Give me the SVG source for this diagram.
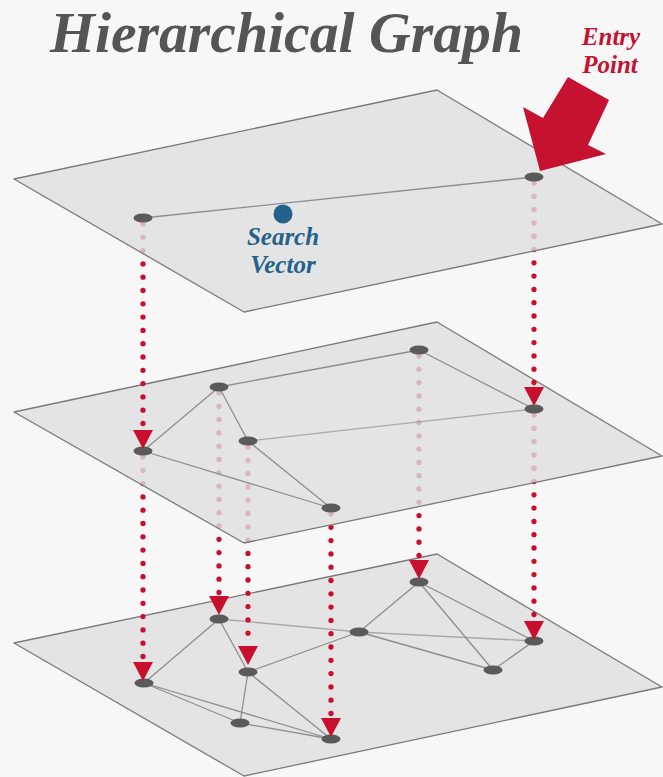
<svg xmlns="http://www.w3.org/2000/svg" width="663" height="777" viewBox="0 0 663 777">
  <defs>
    <style>
      .bg { fill: #f7f7f7; }
      .plane { fill: #dedede; fill-opacity: 0.8; stroke: #7a7a7a; stroke-width: 1.3; stroke-linejoin: round; }
      .edge { stroke: #8e8e8e; stroke-width: 1.3; fill: none; }
      .node { fill: #5a5a5a; }
      .drop { stroke: #c8102e; stroke-width: 5.3; stroke-linecap: round; stroke-dasharray: 0 13.3; fill: none; marker-end: url(#head); }
      .title { font-family: "Liberation Serif", "DejaVu Serif", serif; font-weight: bold; font-style: italic; }
    </style>
    <marker id="head" viewBox="0 -10 20 20" markerWidth="20" markerHeight="20" refX="0" refY="0" orient="auto" markerUnits="userSpaceOnUse" overflow="visible">
      <path d="M0,-10 L19,0 L0,10 Z" fill="#c8102e"/>
    </marker>
  </defs>

  <rect class="bg" x="0" y="0" width="663" height="777"/>

  <!-- bottom layer -->
  <g id="layer-2">
    <polygon class="plane" points="14,643 437,554 662,687 244,776"/>
    <g id="edges-layer-2">
      <line class="edge" x1="144" y1="683" x2="219" y2="619"/>
      <line class="edge" x1="219" y1="619" x2="248" y2="672"/>
      <line class="edge" x1="219" y1="619" x2="359" y2="632" stroke-opacity="0.7"/>
      <line class="edge" x1="359" y1="632" x2="419" y2="582"/>
      <line class="edge" x1="359" y1="632" x2="534" y2="641" stroke-opacity="0.7"/>
      <line class="edge" x1="359" y1="632" x2="493" y2="670"/>
      <line class="edge" x1="359" y1="632" x2="248" y2="672"/>
      <line class="edge" x1="419" y1="582" x2="534" y2="641"/>
      <line class="edge" x1="419" y1="582" x2="493" y2="670"/>
      <line class="edge" x1="493" y1="670" x2="534" y2="641"/>
      <line class="edge" x1="248" y1="672" x2="240" y2="723"/>
      <line class="edge" x1="248" y1="672" x2="331" y2="739"/>
      <line class="edge" x1="144" y1="683" x2="240" y2="723"/>
      <line class="edge" x1="144" y1="683" x2="331" y2="739"/>
      <line class="edge" x1="240" y1="723" x2="331" y2="739"/>
    </g>
    <g id="n2-a"><ellipse class="node" cx="144" cy="683" rx="9.5" ry="4.5"/></g>
    <g id="n2-b"><ellipse class="node" cx="219" cy="619" rx="9.5" ry="4.5"/></g>
    <g id="n2-c"><ellipse class="node" cx="248" cy="672" rx="9.5" ry="4.5"/></g>
    <g id="n2-d"><ellipse class="node" cx="359" cy="632" rx="9.5" ry="4.5"/></g>
    <g id="n2-e"><ellipse class="node" cx="419" cy="582" rx="9.5" ry="4.5"/></g>
    <g id="n2-f"><ellipse class="node" cx="534" cy="641" rx="9.5" ry="4.5"/></g>
    <g id="n2-g"><ellipse class="node" cx="493" cy="670" rx="9.5" ry="4.5"/></g>
    <g id="n2-h"><ellipse class="node" cx="240" cy="723" rx="9.5" ry="4.5"/></g>
    <g id="n2-i"><ellipse class="node" cx="331" cy="739" rx="9.5" ry="4.5"/></g>
  </g>

  <!-- descents from the middle layer to the bottom layer -->
  <g id="connectors-middle-to-bottom">
    <path class="drop" d="M143 457 V662"/>
    <path class="drop" d="M219 393 V596"/>
    <path class="drop" d="M248 447 V646"/>
    <path class="drop" d="M419 356 V560"/>
    <path class="drop" d="M534 415 V621"/>
    <path class="drop" d="M331 514 V718"/>
  </g>

  <!-- middle layer -->
  <g id="layer-1">
    <polygon class="plane" points="14,412 437,322 662,456 244,543"/>
    <g id="edges-layer-1">
      <line class="edge" x1="143" y1="451" x2="219" y2="387"/>
      <line class="edge" x1="219" y1="387" x2="419" y2="350"/>
      <line class="edge" x1="419" y1="350" x2="534" y2="409"/>
      <line class="edge" x1="219" y1="387" x2="248" y2="441"/>
      <line class="edge" x1="248" y1="441" x2="534" y2="409" stroke-opacity="0.7"/>
      <line class="edge" x1="248" y1="441" x2="331" y2="508"/>
      <line class="edge" x1="143" y1="451" x2="331" y2="508"/>
    </g>
    <g id="n1-a"><ellipse class="node" cx="143" cy="451" rx="9.5" ry="4.5"/></g>
    <g id="n1-b"><ellipse class="node" cx="219" cy="387" rx="9.5" ry="4.5"/></g>
    <g id="n1-c"><ellipse class="node" cx="248" cy="441" rx="9.5" ry="4.5"/></g>
    <g id="n1-d"><ellipse class="node" cx="419" cy="350" rx="9.5" ry="4.5"/></g>
    <g id="n1-e"><ellipse class="node" cx="534" cy="409" rx="9.5" ry="4.5"/></g>
    <g id="n1-f"><ellipse class="node" cx="331" cy="508" rx="9.5" ry="4.5"/></g>
  </g>

  <!-- descents from the top layer to the middle layer -->
  <g id="connectors-top-to-middle">
    <path class="drop" d="M143 224 V430"/>
    <path class="drop" d="M534 183 V387"/>
  </g>

  <!-- top layer -->
  <g id="layer-0">
    <polygon class="plane" points="14,179 437,90 662,224 244,312"/>
    <g id="edges-layer-0">
      <line class="edge" x1="143" y1="218" x2="534" y2="177"/>
    </g>
    <g id="n0-a"><ellipse class="node" cx="143" cy="218" rx="9.5" ry="4.5"/></g>
    <g id="n0-entry"><ellipse class="node" cx="534" cy="177" rx="9.5" ry="4.5"/></g>
    <g id="search-vector">
      <circle cx="283" cy="214" r="9.5" fill="#22628b"/>
      <text class="title" x="283" y="245" font-size="25" fill="#22628b" text-anchor="middle">Search</text>
      <text class="title" x="283" y="273" font-size="25" fill="#22628b" text-anchor="middle">Vector</text>
    </g>
  </g>

  <!-- entry point pointer -->
  <g id="entry-point">
    <polygon points="540,171 523,107 543,118 568,77 609,100 588,145 606,154" fill="#c41230"/>
    <text class="title" x="611" y="45" font-size="25" fill="#c41230" text-anchor="middle">Entry</text>
    <text class="title" x="610" y="73" font-size="25" fill="#c41230" text-anchor="middle">Point</text>
  </g>

  <text class="title" x="50" y="52" font-size="58" fill="#555555" textLength="473" lengthAdjust="spacingAndGlyphs">Hierarchical Graph</text>
</svg>
